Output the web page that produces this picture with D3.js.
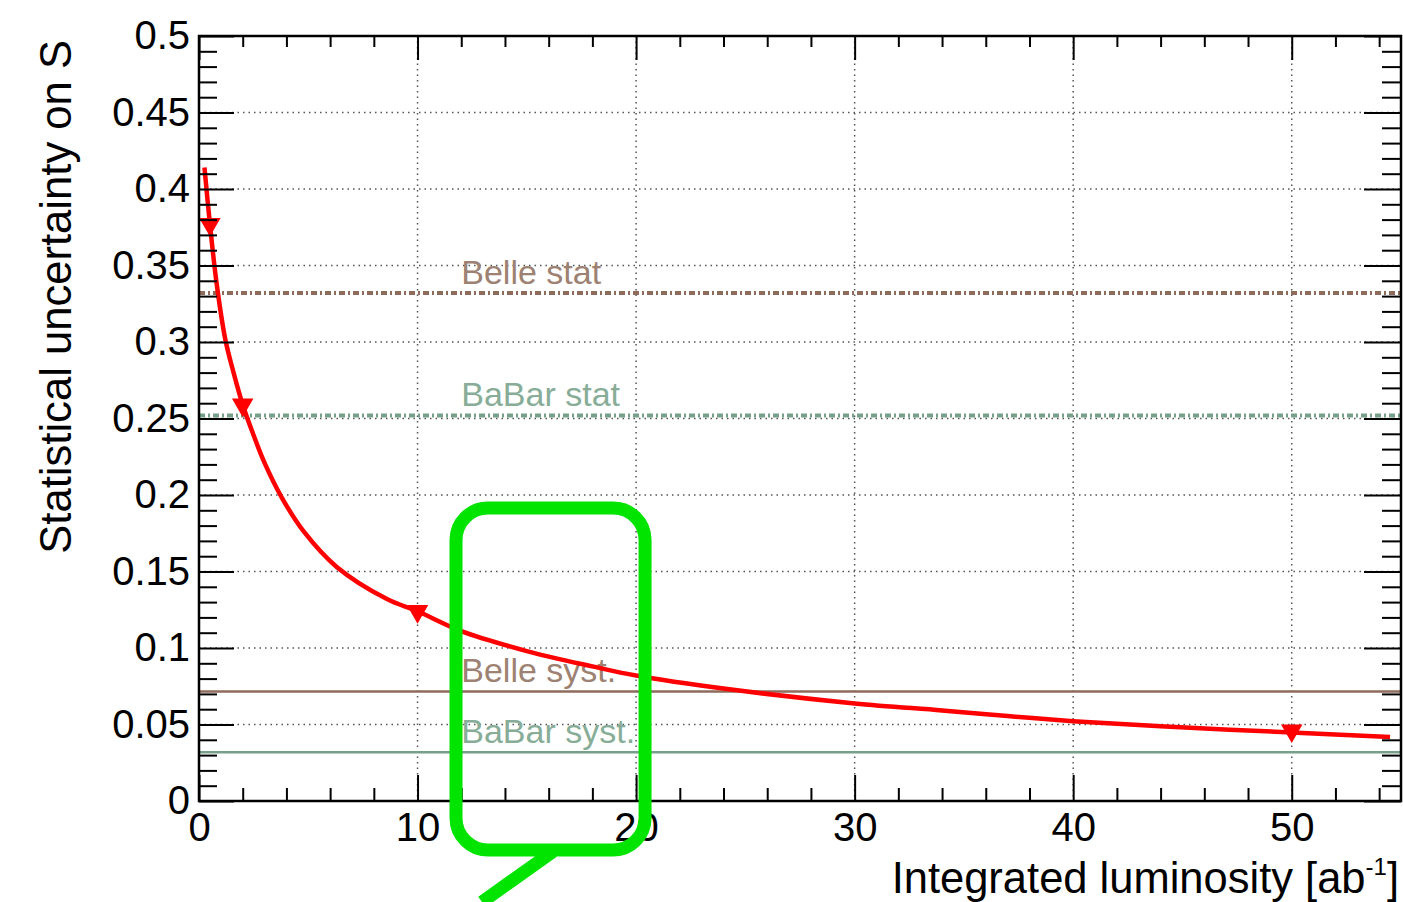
<!DOCTYPE html>
<html>
<head>
<meta charset="utf-8">
<script src="https://cdn.jsdelivr.net/npm/d3@7"></script>
<style>
  html, body { margin: 0; padding: 0; background: #fff; }
  svg { display: block; font-family: "Liberation Sans", Arial, Helvetica, sans-serif; }
</style>
</head>
<body>
<svg id="chart" width="1403" height="902"></svg>
<script>
// Projected statistical uncertainty on S versus integrated luminosity
const lumi  = [0.25, 0.5, 0.8, 1.2, 1.6, 2, 2.5, 3, 3.8, 4.8, 6.3, 8.6, 10, 12, 15, 18, 20, 24, 30, 34, 37, 40, 44, 50, 54.5];
const sigma = [0.414, 0.377, 0.339, 0.302, 0.279, 0.259, 0.239, 0.221, 0.198, 0.176, 0.153, 0.132, 0.124, 0.111, 0.098, 0.088, 0.082, 0.0735, 0.0638, 0.0592, 0.0555, 0.0522, 0.0488, 0.0448, 0.0418];

// Highlighted projection points
const markerLumi  = [0.5, 2, 10, 50];
const markerSigma = [0.377, 0.259, 0.124, 0.046];

// Reference uncertainties from the B factories
const refNames  = ["Belle stat", "BaBar stat", "Belle syst.", "BaBar syst."];
const refValues = [0.332, 0.252, 0.0716, 0.0318];
const refExpt   = ["Belle", "BaBar", "Belle", "BaBar"];
const refKind   = ["stat", "stat", "syst", "syst"];
const refLabelAt = 12;   // luminosity where the labels start

const xTicks = [0, 10, 20, 30, 40, 50];
const xTickLabels = ["0", "10", "20", "30", "40", "50"];
const yTicks = [0, 0.05, 0.1, 0.15, 0.2, 0.25, 0.3, 0.35, 0.4, 0.45, 0.5];
const yTickLabels = ["0", "0.05", "0.1", "0.15", "0.2", "0.25", "0.3", "0.35", "0.4", "0.45", "0.5"];

// Highlight box (in data coordinates) and its pointer
const boxLumi = [11.76, 20.41];
const boxSigma = [0.1915, -0.032];
const pointerLumi = [16.2, 12.95];
const pointerSigma = [-0.033, -0.066];

const svg = d3.select("#chart");
const frame = { left: 199, right: 1401, top: 36, bottom: 801 };

const x = d3.scaleLinear().domain([0, 55]).range([frame.left, frame.right]);
const y = d3.scaleLinear().domain([0, 0.5]).range([frame.bottom, frame.top]);

const exptColor = { Belle: "#8e6b5b", BaBar: "#76a089" };
const exptText  = { Belle: "#9d8172", BaBar: "#87ad98" };

const xMinor = d3.range(0, 55.01, 2).filter(v => Math.abs(v % 10) > 1e-9);
const yMinor = d3.range(0, 0.5001, 0.01).map(v => +v.toFixed(2)).filter(v => Math.abs((v * 100) % 5) > 1e-6);

// grid (dotted) at the major ticks
const grid = svg.append("g");
grid.selectAll(".gx").data(xTicks.filter(v => v > 0)).join("line")
  .attr("x1", d => x(d)).attr("x2", d => x(d))
  .attr("y1", frame.top).attr("y2", frame.bottom)
  .attr("stroke", "#555").attr("stroke-width", 1.5).attr("stroke-dasharray", "1.5,4");
grid.selectAll(".gy").data(yTicks.filter(v => v > 0 && v < 0.5)).join("line")
  .attr("x1", frame.left).attr("x2", frame.right)
  .attr("y1", d => y(d)).attr("y2", d => y(d))
  .attr("stroke", "#555").attr("stroke-width", 1.5).attr("stroke-dasharray", "1.5,4");

// reference levels
const refs = refNames.map((n, i) => ({ name: n, value: refValues[i], expt: refExpt[i], kind: refKind[i] }));
svg.append("g").selectAll("line").data(refs).join("line")
  .attr("x1", x(0)).attr("x2", x(55))
  .attr("y1", d => y(d.value)).attr("y2", d => y(d.value))
  .attr("stroke", d => exptColor[d.expt])
  .attr("stroke-width", d => d.kind === "stat" ? 4 : 2.5)
  .attr("stroke-dasharray", d => d.kind === "stat" ? "6,3,2,3" : null);
svg.append("g").selectAll("text").data(refs).join("text")
  .attr("x", x(refLabelAt))
  .attr("y", d => y(d.value) - 9)
  .attr("fill", d => exptText[d.expt])
  .attr("font-size", 34)
  .text(d => d.name);

// projection curve
const pts = lumi.map((l, i) => [l, sigma[i]]);
svg.append("path").datum(pts)
  .attr("fill", "none").attr("stroke", "#ff0000").attr("stroke-width", 4.5)
  .attr("d", d3.line().x(d => x(d[0])).y(d => y(d[1])).curve(d3.curveCatmullRom.alpha(0.5)));

// triangle markers
const tri = d3.symbol().type(d3.symbolTriangle).size(200);
svg.append("g").selectAll("path").data(markerLumi.map((l, i) => [l, markerSigma[i]])).join("path")
  .attr("d", tri)
  .attr("transform", d => `translate(${x(d[0])},${y(d[1])}) rotate(180)`)
  .attr("fill", "#ff0000");

// axes with inward ticks on all four sides
function styleAxis(g) {
  g.select(".domain").remove();
  g.selectAll(".tick line").attr("stroke", "#000").attr("stroke-width", 2);
  g.selectAll("text").attr("font-size", 40).attr("fill", "#000")
    .attr("font-family", "'Liberation Sans', Arial, Helvetica, sans-serif");
}
svg.append("g").attr("transform", `translate(0,${frame.bottom})`)
  .call(d3.axisBottom(x).tickValues(xTicks).tickFormat((d, i) => xTickLabels[i]).tickSizeInner(-26).tickSizeOuter(0).tickPadding(12))
  .call(styleAxis);
svg.append("g").attr("transform", `translate(0,${frame.bottom})`)
  .call(d3.axisBottom(x).tickValues(xMinor).tickFormat("").tickSizeInner(-13).tickSizeOuter(0))
  .call(styleAxis);
svg.append("g").attr("transform", `translate(0,${frame.top})`)
  .call(d3.axisTop(x).tickValues(xTicks).tickFormat("").tickSizeInner(-24).tickSizeOuter(0))
  .call(styleAxis);
svg.append("g").attr("transform", `translate(0,${frame.top})`)
  .call(d3.axisTop(x).tickValues(xMinor).tickFormat("").tickSizeInner(-11).tickSizeOuter(0))
  .call(styleAxis);
svg.append("g").attr("transform", `translate(${frame.left},0)`)
  .call(d3.axisLeft(y).tickValues(yTicks).tickFormat((d, i) => yTickLabels[i]).tickSizeInner(-35).tickSizeOuter(0).tickPadding(9))
  .call(styleAxis);
svg.append("g").attr("transform", `translate(${frame.left},0)`)
  .call(d3.axisLeft(y).tickValues(yMinor).tickFormat("").tickSizeInner(-18).tickSizeOuter(0))
  .call(styleAxis);
svg.append("g").attr("transform", `translate(${frame.right},0)`)
  .call(d3.axisRight(y).tickValues(yTicks).tickFormat("").tickSizeInner(-37).tickSizeOuter(0))
  .call(styleAxis);
svg.append("g").attr("transform", `translate(${frame.right},0)`)
  .call(d3.axisRight(y).tickValues(yMinor).tickFormat("").tickSizeInner(-19).tickSizeOuter(0))
  .call(styleAxis);

// frame
svg.append("rect")
  .attr("x", frame.left).attr("y", frame.top)
  .attr("width", frame.right - frame.left).attr("height", frame.bottom - frame.top)
  .attr("fill", "none").attr("stroke", "#000").attr("stroke-width", 2.5);

// axis titles
const xt = svg.append("text")
  .attr("x", 1399).attr("y", 893)
  .attr("text-anchor", "end").attr("font-size", 43.5).attr("fill", "#000");
xt.append("tspan").text("Integrated luminosity [ab");
xt.append("tspan").attr("font-size", 24).attr("dy", -18).text("-1");
xt.append("tspan").attr("dy", 18).text("]");

svg.append("text")
  .attr("transform", "translate(71,40) rotate(-90)")
  .attr("text-anchor", "end").attr("font-size", 43.6).attr("fill", "#000")
  .text("Statistical uncertainty on S");

// highlight box with pointer
svg.append("rect")
  .attr("x", x(boxLumi[0])).attr("y", y(boxSigma[0]))
  .attr("width", x(boxLumi[1]) - x(boxLumi[0]))
  .attr("height", y(boxSigma[1]) - y(boxSigma[0]))
  .attr("rx", 32).attr("ry", 32)
  .attr("fill", "none").attr("stroke", "#00e400").attr("stroke-width", 13);
svg.append("line")
  .attr("x1", x(pointerLumi[0])).attr("y1", y(pointerSigma[0]))
  .attr("x2", x(pointerLumi[1])).attr("y2", y(pointerSigma[1]))
  .attr("stroke", "#00e400").attr("stroke-width", 13);
</script>
</body>
</html>
